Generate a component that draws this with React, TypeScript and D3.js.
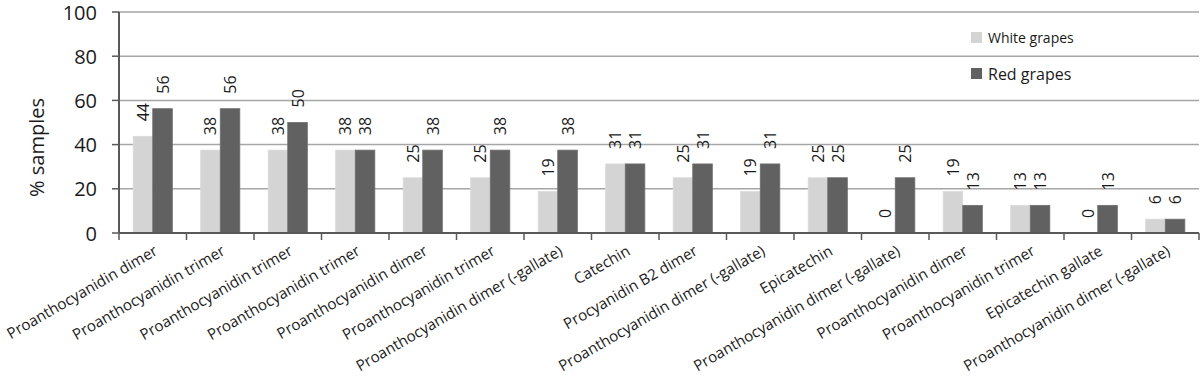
import React from "react";
import * as d3 from "d3";

const categories = [
  "Proanthocyanidin dimer",
  "Proanthocyanidin trimer",
  "Proanthocyanidin trimer",
  "Proanthocyanidin trimer",
  "Proanthocyanidin dimer",
  "Proanthocyanidin trimer",
  "Proanthocyanidin dimer (-gallate)",
  "Catechin",
  "Procyanidin B2 dimer",
  "Proanthocyanidin dimer (-gallate)",
  "Epicatechin",
  "Proanthocyanidin dimer (-gallate)",
  "Proanthocyanidin dimer",
  "Proanthocyanidin trimer",
  "Epicatechin gallate",
  "Proanthocyanidin dimer (-gallate)",
];
const whiteGrapes = [43.75, 37.5, 37.5, 37.5, 25, 25, 18.75, 31.25, 25, 18.75, 25, 0, 18.75, 12.5, 0, 6.25];
const redGrapes = [56.25, 56.25, 50, 37.5, 37.5, 37.5, 37.5, 31.25, 31.25, 31.25, 25, 25, 12.5, 12.5, 12.5, 6.25];
const yTicks = [0, 20, 40, 60, 80, 100];
const seriesNames = ["White grapes", "Red grapes"];

const W = 1200;
const H = 381;
const left = 119;
const right = 1199;
const top = 12;
const bottom = 233;
const FONT = "'Open Sans', sans-serif";

export default function App() {
  const x = d3.scaleBand<number>().domain(d3.range(categories.length)).range([left, right]).paddingInner(0.42).paddingOuter(0.21);
  const y = d3.scaleLinear().domain([0, 100]).range([bottom, top]);
  const bw = x.bandwidth() / 2;
  const step = x.step();
  const colors = ["#d4d4d4", "#616161"];
  const series = [whiteGrapes, redGrapes];

  return (
    <svg width={W} height={H} style={{ position: "absolute", left: 0, top: 0, background: "#fff" }} fontFamily={FONT}>
      {yTicks.filter((t) => t > 0).map((t) => (
        <line key={"g" + t} x1={left} x2={right} y1={y(t)} y2={y(t)} stroke="#a6a6a6" strokeWidth={1.5} />
      ))}
      {series.map((vals, si) =>
        vals.map((v, i) => (
          <rect
            key={`b${si}-${i}`}
            x={(x(i) as number) + si * bw}
            y={y(v)}
            width={bw}
            height={bottom - y(v)}
            fill={colors[si]}
            stroke={si === 0 ? "#dadada" : "#6e6e6e"}
            strokeWidth={0.8}
          />
        ))
      )}
      {series.map((vals, si) =>
        vals.map((v, i) => {
          const cx = (x(i) as number) + si * bw + bw / 2;
          const cy = y(v) - 15;
          return (
            <text
              key={`l${si}-${i}`}
              transform={`translate(${cx},${cy}) rotate(-90)`}
              textAnchor="start"
              dominantBaseline="central"
              fontSize={16}
              fill="#1a1a1a"
            >
              {Math.round(v)}
            </text>
          );
        })
      )}
      <line x1={left} x2={left} y1={top} y2={bottom} stroke="#595959" strokeWidth={2} />
      {yTicks.map((t) => (
        <g key={"t" + t}>
          <line x1={left - 7} x2={left} y1={y(t)} y2={y(t)} stroke="#595959" strokeWidth={1.5} />
          <text x={left - 22} y={y(t)} textAnchor="end" dominantBaseline="central" fontSize={20} fill="#1a1a1a">
            {t}
          </text>
        </g>
      ))}
      <line x1={left} x2={right} y1={bottom} y2={bottom} stroke="#595959" strokeWidth={2} />
      {d3.range(categories.length + 1).map((i) => (
        <line key={"xt" + i} x1={left + i * step} x2={left + i * step} y1={bottom} y2={bottom + 7} stroke="#595959" strokeWidth={1.5} />
      ))}
      {categories.map((c, i) => {
        const cx = left + (i + 0.5) * step;
        return (
          <text
            key={"c" + i}
            transform={`translate(${cx + 6},${bottom + 21}) rotate(-30)`}
            textAnchor="end"
            fontSize={15.2}
            fill="#1a1a1a"
          >
            {c}
          </text>
        );
      })}
      <text transform={`translate(44,${(top + bottom) / 2 + 25}) rotate(-90)`} textAnchor="middle" fontSize={20} fill="#1a1a1a">
        % samples
      </text>
      <rect x={971} y={32} width={11} height={11} fill={colors[0]} />
      <text x={988} y={43} fontSize={14} fill="#1a1a1a">{seriesNames[0]}</text>
      <rect x={971} y={68} width={11} height={11} fill={colors[1]} />
      <text x={988} y={80} fontSize={16} fill="#1a1a1a">{seriesNames[1]}</text>
    </svg>
  );
}
